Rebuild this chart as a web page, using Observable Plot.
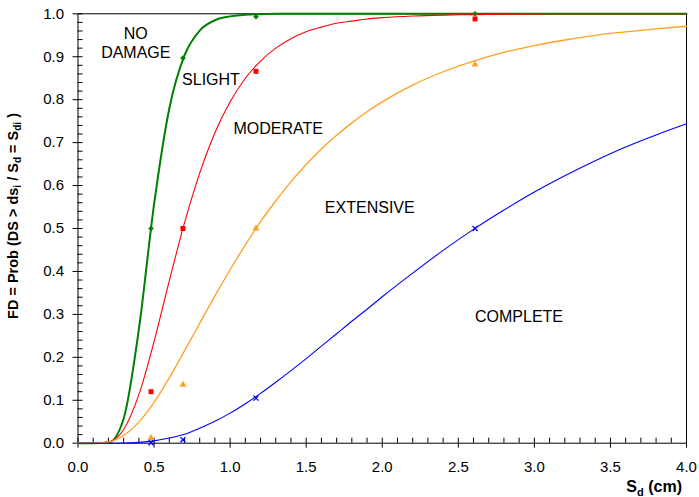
<!DOCTYPE html>
<html>
<head>
<meta charset="utf-8">
<script src="https://cdn.jsdelivr.net/npm/d3@7"></script>
<script src="https://cdn.jsdelivr.net/npm/@observablehq/plot@0.6"></script>
<style>
  body { margin: 0; background: #fff; }
  #chart { width: 699px; height: 497px; }
</style>
</head>
<body>
<div id="chart"></div>
<script>
// Spectral displacement grid (cm) at which the fragility curves are tabulated
const sd = [0, 0.1, 0.2, 0.3, 0.4, 0.5, 0.6, 0.7, 0.8, 0.9, 1.0,
            1.1, 1.2, 1.3, 1.4, 1.5, 1.6, 1.7, 1.8, 1.9, 2.0,
            2.2, 2.4, 2.6, 2.8, 3.0, 3.2, 3.4, 3.6, 3.8, 4.0];

// Exceedance probability of each damage state along the grid
const pSlight = [0, 0, 0.001, 0.057, 0.265, 0.556, 0.779, 0.903, 0.961, 0.985, 0.994,
                 0.998, 0.999, 1, 1, 1, 1, 1, 1, 1, 1,
                 1, 1, 1, 1, 1, 1, 1, 1, 1, 1];
const pModerate = [0, 0, 0.003, 0.032, 0.113, 0.237, 0.378, 0.513, 0.629, 0.723, 0.795,
                   0.850, 0.890, 0.920, 0.942, 0.958, 0.969, 0.978, 0.983, 0.988, 0.991,
                   0.995, 0.997, 0.998, 0.999, 0.9995, 1, 1, 1, 1, 1];
const pExtensive = [0, 0, 0.003, 0.018, 0.049, 0.095, 0.152, 0.215, 0.279, 0.343, 0.404,
                    0.462, 0.516, 0.564, 0.609, 0.649, 0.685, 0.717, 0.746, 0.772, 0.795,
                    0.834, 0.865, 0.890, 0.910, 0.926, 0.939, 0.950, 0.958, 0.965, 0.971];
const pComplete = [0, 0, 0, 0.0004, 0.002, 0.0055, 0.012, 0.021, 0.035, 0.051, 0.070,
                   0.092, 0.116, 0.142, 0.169, 0.197, 0.226, 0.255, 0.284, 0.312, 0.341,
                   0.396, 0.449, 0.498, 0.543, 0.585, 0.623, 0.658, 0.690, 0.718, 0.744];

// Observed fractions at the four performance points
const obsSd = [0.48, 0.69, 1.17, 2.61];
const obsSlight = [0.5, 0.897, 0.993, 1.0];
const obsModerate = [0.12, 0.5, 0.866, 0.988];
const obsExtensive = [0.012, 0.136, 0.5, 0.882];
const obsComplete = [0.001, 0.008, 0.105, 0.5];

// Damage-state names written between the curves (anchored in data units)
const stateNames = ["NO\nDAMAGE", "SLIGHT", "MODERATE", "EXTENSIVE", "COMPLETE"];
const stateSd = [0.38, 0.874, 1.316, 1.918, 2.899];
const stateP = [0.933, 0.849, 0.734, 0.551, 0.297];

// Axis ticks
const xTicks = [0, 0.5, 1.0, 1.5, 2.0, 2.5, 3.0, 3.5, 4.0];
const yTicks = [0, 0.1, 0.2, 0.3, 0.4, 0.5, 0.6, 0.7, 0.8, 0.9, 1.0];
const xMinor = d3.range(0, 41).map(k => k / 10).filter(v => Math.round(v * 10) % 5 !== 0);
const yMinor = d3.range(0, 51).map(k => k / 50).filter(v => Math.round(v * 50) % 5 !== 0);

const curves = sd.map((s, i) => ({
  sd: s, slight: pSlight[i], moderate: pModerate[i], extensive: pExtensive[i], complete: pComplete[i]
}));
const observed = obsSd.map((s, i) => ({
  sd: s, slight: obsSlight[i], moderate: obsModerate[i], extensive: obsExtensive[i], complete: obsComplete[i]
}));
const labels = stateNames.map((t, i) => ({ text: t, sd: stateSd[i], p: stateP[i] }));

const GREEN = "#008000", RED = "#ff0000", ORANGE = "#ffa020", BLUE = "#0000ff";
const FONT = "'Liberation Sans', Arial, sans-serif";

const svg = Plot.plot({
  width: 699,
  height: 497,
  marginLeft: 77.5,
  marginRight: 13,
  marginTop: 13.3,
  marginBottom: 54.3,
  style: { fontFamily: FONT, fontSize: "15px", color: "#000", background: "#fff" },
  x: { domain: [0, 4] },
  y: { domain: [0, 1] },
  marks: [
    Plot.frame({ stroke: "#000", strokeWidth: 1 }),
    // minor ticks point into the plot, major ticks cross the axis
    Plot.ruleX(xMinor, { x: d => d, y1: 0, y2: 0, insetTop: 0, insetBottom: 5, stroke: "#000" }),
    Plot.ruleX(xTicks, { x: d => d, y1: 0, y2: 0, insetTop: 5, insetBottom: 5, stroke: "#000" }),
    Plot.ruleY(yMinor, { y: d => d, x1: 0, x2: 0, insetLeft: 0, insetRight: -5, stroke: "#000" }),
    Plot.ruleY(yTicks, { y: d => d, x1: 0, x2: 0, insetLeft: -5, insetRight: -5, stroke: "#000" }),
    Plot.axisX({ ticks: xTicks, tickSize: 0, tickPadding: 18, tickFormat: d3.format(".1f"), label: null, fontSize: 15 }),
    Plot.axisY({ ticks: yTicks, tickSize: 0, tickPadding: 14, tickFormat: d3.format(".1f"), label: null, fontSize: 15 }),

    Plot.line(curves, { x: "sd", y: "slight", stroke: GREEN, strokeWidth: 2, curve: "monotone-x" }),
    Plot.line(curves, { x: "sd", y: "moderate", stroke: RED, strokeWidth: 1.1, curve: "monotone-x" }),
    Plot.line(curves, { x: "sd", y: "extensive", stroke: ORANGE, strokeWidth: 1.3, curve: "monotone-x" }),
    Plot.line(curves, { x: "sd", y: "complete", stroke: BLUE, strokeWidth: 1.1, curve: "monotone-x" }),

    Plot.dot(observed, { x: "sd", y: "slight", symbol: "diamond2", r: 2.3, fill: GREEN, stroke: GREEN, strokeWidth: 0.5 }),
    Plot.dot(observed, { x: "sd", y: "moderate", symbol: "square", r: 2.8, fill: RED, stroke: "none" }),
    Plot.dot(observed, { x: "sd", y: "extensive", symbol: "triangle", r: 2.6, fill: ORANGE, stroke: "none" }),
    Plot.dot(observed, { x: "sd", y: "complete", symbol: "times", r: 2.4, stroke: BLUE, strokeWidth: 1.3 }),

    Plot.text(labels, { x: "sd", y: "p", text: "text", fontSize: 16, lineHeight: 1.2, fill: "#000" })
  ]
});

// Axis titles with subscripts
const root = d3.select(svg);
const yTitle = root.append("text")
  .attr("transform", "translate(17.5,216) rotate(-90)")
  .attr("text-anchor", "middle")
  .attr("font-family", FONT)
  .attr("font-weight", "bold")
  .attr("font-size", 14.5)
  .attr("fill", "#000");
yTitle.append("tspan").text("FD = Prob (DS > ds");
yTitle.append("tspan").attr("dy", 3.5).attr("font-size", 10).text("i");
yTitle.append("tspan").attr("dy", -3.5).text(" / S");
yTitle.append("tspan").attr("dy", 3.5).attr("font-size", 10).text("d");
yTitle.append("tspan").attr("dy", -3.5).text(" = S");
yTitle.append("tspan").attr("dy", 3.5).attr("font-size", 10).text("di");
yTitle.append("tspan").attr("dy", -3.5).text(" )");

const xTitle = root.append("text")
  .attr("x", 682)
  .attr("y", 491.5)
  .attr("text-anchor", "end")
  .attr("font-family", FONT)
  .attr("font-weight", "bold")
  .attr("font-size", 16)
  .attr("fill", "#000");
xTitle.append("tspan").text("S");
xTitle.append("tspan").attr("dy", 4).attr("font-size", 11).text("d");
xTitle.append("tspan").attr("dy", -4).text(" (cm)");

document.getElementById("chart").appendChild(svg);
</script>
</body>
</html>
